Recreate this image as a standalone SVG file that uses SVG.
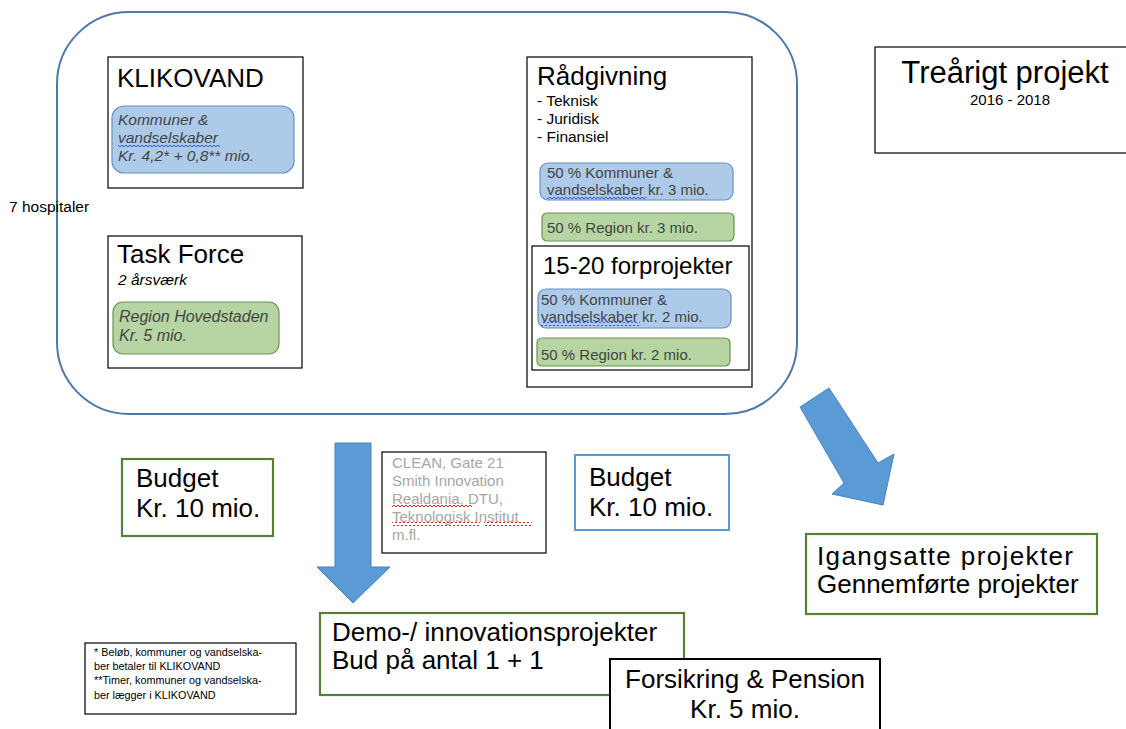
<svg xmlns="http://www.w3.org/2000/svg" width="1126" height="729" viewBox="0 0 1126 729">
<defs>
<pattern id="sqB" width="4" height="4" patternUnits="userSpaceOnUse"><path d="M0,3 L2,1 L4,3" fill="none" stroke="#3355e6" stroke-width="1"/></pattern>
<pattern id="sqR" width="4" height="4" patternUnits="userSpaceOnUse"><path d="M0,3 L2,1 L4,3" fill="none" stroke="#e52222" stroke-width="1"/></pattern>
</defs>
<style>
text{font-family:"Liberation Sans",Arial,sans-serif;fill:#000}
.box{fill:#fff;stroke:#000;stroke-width:1.2}
.boxg{fill:#fff;stroke:#56803a;stroke-width:2.2}
.boxb{fill:#fff;stroke:#5b9bd5;stroke-width:2}
.blue{fill:#adcae8;stroke:#6890c0;stroke-width:1.2}
.green{fill:#b6d5a2;stroke:#6a9450;stroke-width:1.2}
.h{font-size:26px}
.m{font-size:26px}
.s{font-size:15px}
.l{font-size:15.5px}
.it{font-style:italic;fill:#444}
.in{fill:#444}
.gr{fill:#a6a6a6}
.fn{font-size:10.8px}
.arr{fill:#5b9bd5;stroke:#4a82bd;stroke-width:1}
</style>
<rect width="1126" height="729" fill="#fff"/>
<text x="342" y="-6" font-size="30">g</text>
<g id="container"><rect x="57" y="12" width="740" height="402" rx="72" ry="72" fill="none" stroke="#4f78a8" stroke-width="2"/></g>
<g id="hospitaler"><text x="9" y="212" font-size="15.5">7 hospitaler</text></g>
<g id="klikovand">
<rect class="box" x="108" y="57" width="195" height="131"/>
<text class="h" x="117" y="87">KLIKOVAND</text>
<rect class="blue" x="112" y="106" width="182" height="67" rx="12"/>
<text class="l it" x="118" y="125">Kommuner &amp;</text>
<text class="l it" x="118" y="143">vandselskaber</text>
<rect x="118" y="143" width="102" height="4" fill="url(#sqB)"/>
<text class="l it" x="118" y="161">Kr. 4,2* + 0,8** mio.</text>
</g>
<g id="taskforce">
<rect class="box" x="108" y="236" width="194" height="132"/>
<text class="h" x="117" y="263">Task Force</text>
<text class="l" x="118" y="285" font-style="italic">2 årsværk</text>
<rect class="green" x="113" y="302" width="166" height="52" rx="10"/>
<text class="it" x="119" y="322" font-size="16">Region Hovedstaden</text>
<text class="it" x="119" y="341" font-size="16">Kr. 5 mio.</text>
</g>
<g id="raadgivning">
<rect class="box" x="527" y="57" width="225" height="330"/>
<text class="h" x="537" y="85">Rådgivning</text>
<text class="l" x="537" y="106">- Teknisk</text>
<text class="l" x="537" y="124">- Juridisk</text>
<text class="l" x="537" y="142">- Finansiel</text>
<rect class="blue" x="540" y="163" width="193" height="37" rx="8"/>
<text class="s in" x="547" y="178">50 % Kommuner &amp;</text>
<text class="s in" x="547" y="195">vandselskaber kr. 3 mio.</text>
<rect x="547" y="195" width="99" height="4" fill="url(#sqB)"/>
<rect class="green" x="542" y="213" width="192" height="28" rx="5"/>
<text class="s in" x="547" y="233">50 % Region kr. 3 mio.</text>
</g>
<g id="forprojekter">
<rect class="box" x="532" y="246" width="217" height="124"/>
<text x="543" y="274" font-size="24">15-20 forprojekter</text>
<rect class="blue" x="538" y="289" width="193" height="39" rx="8"/>
<text class="s in" x="541" y="305">50 % Kommuner &amp;</text>
<text class="s in" x="541" y="322">vandselskaber kr. 2 mio.</text>
<rect x="541" y="322" width="99" height="4" fill="url(#sqB)"/>
<rect class="green" x="537" y="338" width="193" height="28" rx="5"/>
<text class="s in" x="541" y="360">50 % Region kr. 2 mio.</text>
</g>
<g id="treaarigt">
<rect class="box" x="875" y="47" width="260" height="106"/>
<text x="1005" y="83" font-size="31" text-anchor="middle">Treårigt projekt</text>
<text x="1010" y="105" font-size="15" text-anchor="middle">2016 - 2018</text>
</g>
<g id="connectors">
<path class="arr" d="M335,443 L371,443 L371,567 L390,567 L353,603 L317,567 L335,567 Z"/>
<path class="arr" d="M800,407 L829,388 L878,463 L894,454 L883,505 L832,494 L844,483 Z"/>
</g>
<g id="partners">
<rect class="box" x="382" y="452" width="164" height="101"/>
<text class="s gr" x="392" y="468">CLEAN, Gate 21</text>
<text class="s gr" x="392" y="486">Smith Innovation</text>
<text class="s gr" x="392" y="504">Realdania, DTU,</text>
<rect x="392" y="504" width="80" height="4" fill="url(#sqR)"/>
<text class="s gr" x="392" y="522">Teknologisk Institut</text>
<rect x="392" y="522" width="88" height="4" fill="url(#sqR)"/>
<rect x="484" y="522" width="48" height="4" fill="url(#sqR)"/>
<text class="s gr" x="392" y="540">m.fl.</text>
</g>
<g id="budget1">
<rect class="boxg" x="122" y="459" width="151" height="77"/>
<text class="m" x="136" y="487">Budget</text>
<text class="m" x="136" y="517">Kr. 10 mio.</text>
</g>
<g id="budget2">
<rect class="boxb" x="575" y="455" width="154" height="75"/>
<text class="m" x="589" y="486">Budget</text>
<text class="m" x="589" y="516">Kr. 10 mio.</text>
</g>
<g id="igangsatte">
<rect class="boxg" x="806" y="534" width="291" height="80"/>
<text class="m" x="817" y="565" textLength="256" lengthAdjust="spacing">Igangsatte projekter</text>
<text class="m" x="817" y="593">Gennemførte projekter</text>
</g>
<g id="demo">
<rect class="boxg" x="320" y="613" width="364" height="82"/>
<text class="m" x="332" y="641">Demo-/ innovationsprojekter</text>
<text class="m" x="332" y="669">Bud på antal 1 + 1</text>
</g>
<g id="forsikring">
<rect x="610" y="659" width="270" height="80" fill="#fff" stroke="#000" stroke-width="2"/>
<text class="m" x="745" y="688" text-anchor="middle">Forsikring &amp; Pension</text>
<text class="m" x="745" y="718" text-anchor="middle">Kr. 5 mio.</text>
</g>
<g id="footnote">
<rect class="box" x="85" y="643" width="211" height="71"/>
<text class="fn" x="94" y="656">* Beløb, kommuner og vandselska-</text>
<text class="fn" x="94" y="670">ber betaler til KLIKOVAND</text>
<text class="fn" x="94" y="684">**Timer, kommuner og vandselska-</text>
<text class="fn" x="94" y="699">ber lægger i KLIKOVAND</text>
</g>
</svg>
